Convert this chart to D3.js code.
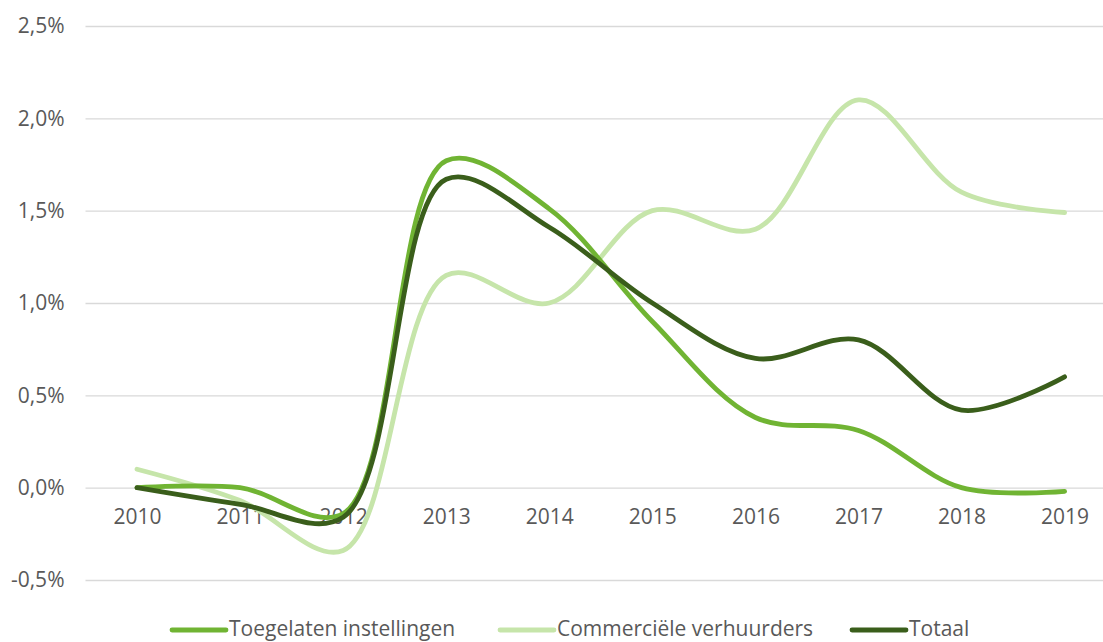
<!DOCTYPE html>
<html>
<head>
<meta charset="utf-8">
<script src="https://cdn.jsdelivr.net/npm/d3@7"></script>
<style>
  body { margin: 0; background: #fff; }
  text { font-family: "Open Sans", sans-serif; fill: #595959; }
</style>
</head>
<body>
<script>
// jaren en reeksen (in procenten)
const jaren = [2010, 2011, 2012, 2013, 2014, 2015, 2016, 2017, 2018, 2019];
const toegelaten = [0.0, 0.0, -0.14, 1.77, 1.51, 0.9, 0.38, 0.31, 0.0, -0.02];
const commercieel = [0.1, -0.07, -0.34, 1.15, 1.0, 1.5, 1.4, 2.1, 1.6, 1.49];
const totaal = [0.0, -0.09, -0.16, 1.67, 1.41, 1.0, 0.7, 0.8, 0.42, 0.6];
const yTicks = [-0.5, 0, 0.5, 1.0, 1.5, 2.0, 2.5];
const reeksNamen = ["Toegelaten instellingen", "Commerciële verhuurders", "Totaal"];

const kleuren = ["#70b433", "#c6e5aa", "#3a5e1b"];

const W = 1103, H = 642;
const svg = d3.select("body").append("svg")
  .attr("width", W)
  .attr("height", H);

const x = d3.scalePoint().domain(jaren).range([137, 1064.6]);
const y = d3.scaleLinear().domain([-0.5, 2.5]).range([580, 26]);

const nl = d3.formatLocale({ decimal: ",", thousands: ".", grouping: [3], currency: ["€", ""], minus: "-" });
const fmt = d => nl.format(".1f")(d) + "%";

// gridlijnen + y-as
const yAxis = svg.append("g")
  .attr("transform", "translate(85.5,0)")
  .call(d3.axisLeft(y).tickValues(yTicks).tickFormat(fmt).tickSize(-(W - 85.5)).tickPadding(21));
yAxis.select(".domain").remove();
yAxis.selectAll(".tick line").attr("stroke", "#d9d9d9").attr("stroke-width", 1.3);
yAxis.selectAll(".tick text").attr("font-size", 21).style("fill", "#595959");

// x-as labels op de nullijn
const xAxis = svg.append("g")
  .attr("transform", "translate(0," + y(0) + ")")
  .call(d3.axisBottom(x).tickSize(0).tickPadding(21));
xAxis.select(".domain").remove();
xAxis.selectAll(".tick text").attr("font-size", 21).style("fill", "#595959");

const reeksen = [toegelaten, commercieel, totaal];
const lijn = d3.line()
  .x((d, i) => x(jaren[i]))
  .y(d => y(d))
  .curve(d3.curveCatmullRom);

// volgorde tekenen: commercieel, toegelaten, totaal
[1, 0, 2].forEach(k => {
  svg.append("path")
    .attr("d", lijn(reeksen[k]))
    .attr("fill", "none")
    .attr("stroke", kleuren[k])
    .attr("stroke-width", 4.8)
    .attr("stroke-linecap", "round")
    .attr("stroke-linejoin", "round");
});

// legenda
const legX = [172, 500, 852];
const legY = 630;
const leg = svg.append("g");
reeksNamen.forEach((n, i) => {
  leg.append("line")
    .attr("x1", legX[i]).attr("x2", legX[i] + 54)
    .attr("y1", legY).attr("y2", legY)
    .attr("stroke", kleuren[i])
    .attr("stroke-width", 4.8)
    .attr("stroke-linecap", "round");
  leg.append("text")
    .attr("x", legX[i] + 57)
    .attr("y", legY + 6)
    .attr("font-size", 21)
    .text(n);
});
</script>
</body>
</html>
